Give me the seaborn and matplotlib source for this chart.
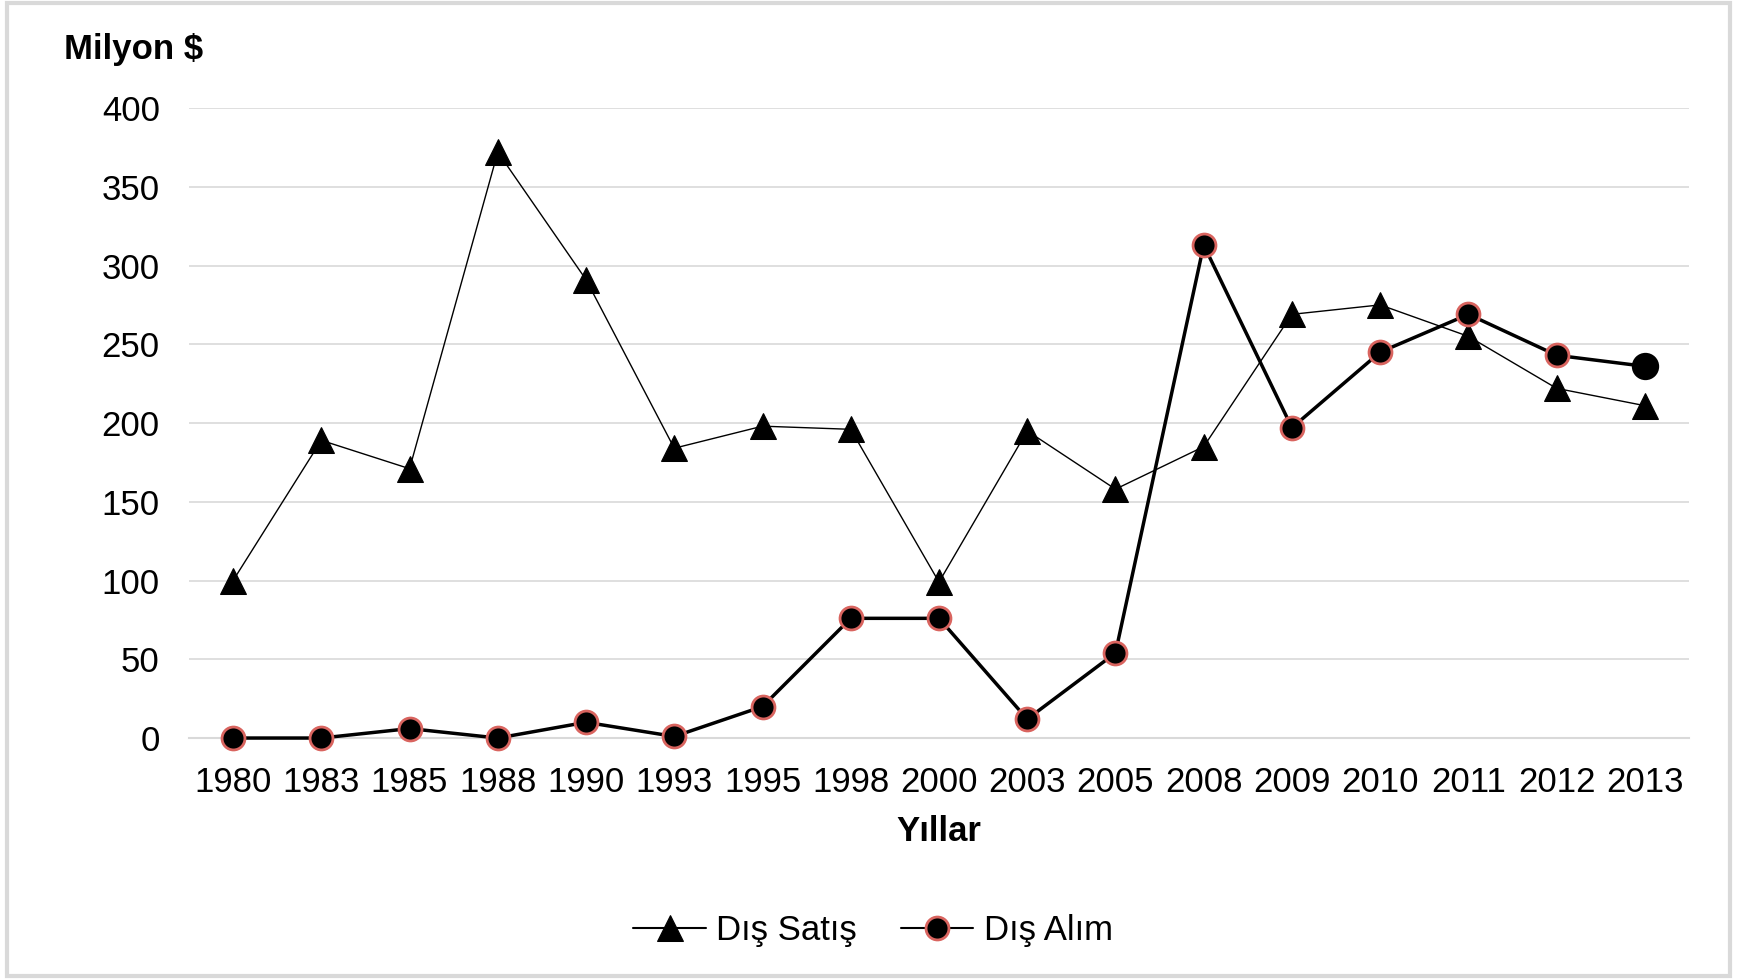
import pandas as pd
import numpy as np
import matplotlib.pyplot as plt
import seaborn as sns
from matplotlib.patches import Rectangle

years = ["1980", "1983", "1985", "1988", "1990", "1993", "1995", "1998", "2000",
         "2003", "2005", "2008", "2009", "2010", "2011", "2012", "2013"]
dis_satis = [100, 189, 171, 372, 291, 184, 198, 196, 99,
             195, 158, 185, 269, 275, 255, 222, 211]
dis_alim = [0, 0, 6, 0, 10, 1, 20, 76, 76,
            12, 54, 313, 197, 245, 269, 243, 236]

df = pd.DataFrame({"Yil": years, "Dış Satış": dis_satis, "Dış Alım": dis_alim})

sns.set_style("white")
plt.rcParams['font.family'] = ['Liberation Sans', 'DejaVu Sans']
plt.rcParams['text.color'] = 'black'

fig = plt.figure(figsize=(17.4, 9.8), dpi=100)
ax = fig.add_axes([0.1086, 0.2469, 0.8621, 0.6429])

# Dış Satış: ince çizgi, üçgen işaret
sns.lineplot(data=df, x="Yil", y="Dış Satış", ax=ax, color="black", linewidth=1.0,
             marker="^", markersize=19, markerfacecolor="black", markeredgecolor="black",
             label="Dış Satış", sort=False, clip_on=False, zorder=3)

# Dış Alım: kalın çizgi, kırmızı kenarlı daire
sns.lineplot(data=df, x="Yil", y="Dış Alım", ax=ax, color="black", linewidth=2.5,
             marker="o", markersize=16.5, markerfacecolor="black", markeredgecolor="#d9645f",
             markeredgewidth=2, label="Dış Alım", sort=False, clip_on=False, zorder=4)

# son nokta kenarsız
last = df.iloc[[-1]]
sns.scatterplot(data=last, x="Yil", y="Dış Alım", ax=ax, color="black", s=330,
                edgecolor="black", linewidth=1.5, zorder=5, legend=False, clip_on=False)

ax.set_ylim(0, 400)
ax.set_xlim(-0.5, len(years) - 0.5)
ax.set_yticks(np.arange(0, 401, 50))
ax.yaxis.grid(True, color="#d9d9d9", linewidth=1.2)
ax.xaxis.grid(False)
ax.set_axisbelow(True)

for s in ["top", "right", "left"]:
    ax.spines[s].set_visible(False)
ax.spines["bottom"].set_color("#d9d9d9")
ax.spines["bottom"].set_linewidth(1.5)
ax.spines["bottom"].set_zorder(1)

ax.set_xticks(range(len(years)))
ax.set_xticklabels(years)
ax.set_xticks(np.arange(-0.5, len(years), 1.0), minor=True)
ax.tick_params(axis="x", which="major", length=0, labelsize=25, pad=20, colors="black")
ax.tick_params(axis="x", which="minor", length=9, width=1.5, color="#d9d9d9", direction="out")
ax.tick_params(axis="y", length=0, labelsize=25, pad=21, colors="black")

ax.set_xlabel("Yıllar", fontsize=25, fontweight="bold", labelpad=12, color="black")
ax.set_ylabel("")
fig.text(0.037, 0.949, "Milyon $", fontsize=25, fontweight="bold", va="center", ha="left",
         color="black")

leg = ax.legend(loc="upper center", bbox_to_anchor=(0.456, -0.23),
                ncol=2, frameon=False, fontsize=25, handlelength=2.1, handletextpad=0.3,
                columnspacing=1.25)
for h in leg.get_lines():
    h.set_linewidth(1.5)
for t in leg.get_texts():
    t.set_color("black")

fig.patches.append(Rectangle((0.004, 0.004), 0.99, 0.993, transform=fig.transFigure,
                             fill=False, edgecolor="#d9d9d9", linewidth=3))

fig.savefig("out.png", dpi=100)
